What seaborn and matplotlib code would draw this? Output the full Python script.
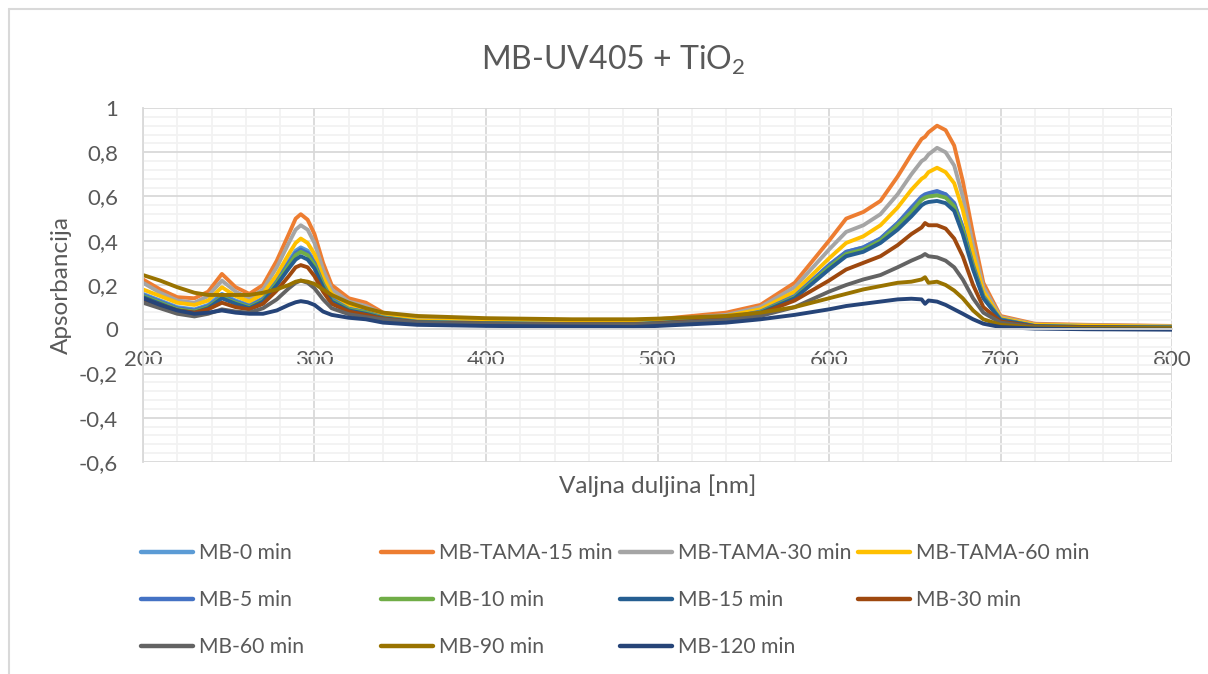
import matplotlib.pyplot as plt
import matplotlib.ticker as mticker
import pandas as pd
import seaborn as sns
from matplotlib.lines import Line2D

wavelengths = [200, 210, 220, 230, 238, 246, 254, 262, 270, 278, 285, 289, 292, 296, 300, 305,
               310, 320, 330, 340, 360, 400, 450, 486, 500, 540, 560, 580, 600, 610, 620,
               630, 640, 648, 654, 656, 658, 663, 668, 673, 678, 684, 690, 700, 720, 750, 800]

mb_0 = [0.16, 0.13, 0.10, 0.09, 0.11, 0.16, 0.13, 0.11, 0.14, 0.22, 0.31, 0.355, 0.37, 0.355, 0.31, 0.21,
        0.14, 0.095, 0.08, 0.055, 0.035, 0.03, 0.025, 0.025, 0.03, 0.05, 0.08, 0.15, 0.29, 0.35, 0.37,
        0.41, 0.48, 0.54, 0.59, 0.60, 0.61, 0.62, 0.61, 0.57, 0.46, 0.29, 0.15, 0.045, 0.015, 0.01, 0.008]
mb_tama_15 = [0.225, 0.18, 0.145, 0.14, 0.17, 0.25, 0.19, 0.16, 0.20, 0.31, 0.43, 0.50, 0.52, 0.495, 0.43, 0.30,
              0.20, 0.14, 0.12, 0.075, 0.05, 0.045, 0.04, 0.04, 0.045, 0.075, 0.11, 0.21, 0.40, 0.50, 0.53,
              0.58, 0.69, 0.79, 0.86, 0.87, 0.89, 0.92, 0.90, 0.83, 0.67, 0.43, 0.21, 0.06, 0.025, 0.02, 0.015]
mb_tama_30 = [0.21, 0.165, 0.13, 0.12, 0.15, 0.22, 0.17, 0.14, 0.18, 0.28, 0.39, 0.45, 0.47, 0.45, 0.39, 0.27,
              0.18, 0.125, 0.105, 0.07, 0.045, 0.04, 0.035, 0.035, 0.04, 0.065, 0.10, 0.19, 0.36, 0.44, 0.47,
              0.52, 0.61, 0.70, 0.76, 0.77, 0.79, 0.82, 0.80, 0.74, 0.60, 0.38, 0.19, 0.055, 0.022, 0.018, 0.014]
mb_tama_60 = [0.18, 0.15, 0.12, 0.11, 0.13, 0.19, 0.15, 0.125, 0.16, 0.245, 0.34, 0.39, 0.41, 0.39, 0.34, 0.235,
              0.16, 0.11, 0.095, 0.065, 0.04, 0.035, 0.03, 0.03, 0.035, 0.06, 0.09, 0.17, 0.32, 0.39, 0.42,
              0.47, 0.55, 0.63, 0.68, 0.69, 0.71, 0.73, 0.71, 0.66, 0.54, 0.34, 0.17, 0.05, 0.02, 0.016, 0.012]
mb_5 = [0.155, 0.125, 0.095, 0.085, 0.105, 0.15, 0.125, 0.105, 0.135, 0.215, 0.30, 0.345, 0.36, 0.345, 0.30, 0.205,
        0.135, 0.092, 0.078, 0.054, 0.034, 0.028, 0.024, 0.024, 0.029, 0.05, 0.08, 0.15, 0.29, 0.35, 0.37,
        0.41, 0.48, 0.55, 0.60, 0.61, 0.615, 0.625, 0.61, 0.57, 0.46, 0.29, 0.15, 0.045, 0.015, 0.01, 0.008]
mb_10 = [0.15, 0.12, 0.09, 0.08, 0.10, 0.145, 0.12, 0.10, 0.13, 0.21, 0.29, 0.335, 0.35, 0.335, 0.29, 0.20,
         0.13, 0.09, 0.075, 0.052, 0.033, 0.027, 0.023, 0.023, 0.028, 0.048, 0.077, 0.145, 0.28, 0.34, 0.36,
         0.40, 0.47, 0.53, 0.585, 0.595, 0.60, 0.605, 0.595, 0.555, 0.45, 0.28, 0.145, 0.043, 0.014, 0.01, 0.008]
mb_15 = [0.145, 0.115, 0.085, 0.075, 0.095, 0.14, 0.115, 0.095, 0.125, 0.20, 0.275, 0.315, 0.33, 0.315, 0.275, 0.19,
         0.125, 0.085, 0.07, 0.05, 0.032, 0.026, 0.022, 0.022, 0.027, 0.046, 0.074, 0.14, 0.27, 0.33, 0.35,
         0.39, 0.45, 0.51, 0.56, 0.57, 0.575, 0.58, 0.57, 0.535, 0.43, 0.27, 0.14, 0.042, 0.014, 0.01, 0.008]
mb_30 = [0.135, 0.11, 0.085, 0.075, 0.09, 0.12, 0.10, 0.09, 0.115, 0.175, 0.24, 0.28, 0.29, 0.28, 0.24, 0.17,
         0.115, 0.08, 0.065, 0.048, 0.03, 0.025, 0.022, 0.022, 0.026, 0.045, 0.07, 0.13, 0.22, 0.27, 0.30,
         0.33, 0.38, 0.43, 0.46, 0.48, 0.47, 0.47, 0.455, 0.41, 0.33, 0.20, 0.10, 0.035, 0.012, 0.008, 0.006]
mb_60 = [0.12, 0.095, 0.07, 0.058, 0.07, 0.09, 0.08, 0.075, 0.095, 0.135, 0.185, 0.21, 0.22, 0.21, 0.185, 0.135,
         0.095, 0.068, 0.055, 0.045, 0.03, 0.025, 0.022, 0.022, 0.025, 0.042, 0.06, 0.10, 0.17, 0.20, 0.225,
         0.245, 0.28, 0.31, 0.33, 0.34, 0.33, 0.325, 0.31, 0.28, 0.225, 0.14, 0.075, 0.03, 0.01, 0.006, 0.005]
mb_90 = [0.245, 0.22, 0.19, 0.165, 0.155, 0.155, 0.155, 0.155, 0.165, 0.18, 0.20, 0.215, 0.22, 0.215, 0.205, 0.18,
         0.155, 0.12, 0.095, 0.075, 0.06, 0.05, 0.045, 0.045, 0.048, 0.06, 0.075, 0.10, 0.14, 0.16, 0.18,
         0.195, 0.21, 0.215, 0.225, 0.235, 0.21, 0.215, 0.20, 0.175, 0.14, 0.085, 0.045, 0.02, 0.008, 0.006, 0.005]
mb_120 = [0.14, 0.11, 0.085, 0.07, 0.075, 0.085, 0.075, 0.07, 0.07, 0.085, 0.11, 0.122, 0.127, 0.122, 0.11, 0.08,
          0.065, 0.052, 0.045, 0.03, 0.02, 0.015, 0.012, 0.01, 0.015, 0.03, 0.045, 0.065, 0.09, 0.105, 0.115,
          0.125, 0.135, 0.138, 0.135, 0.115, 0.13, 0.125, 0.11, 0.09, 0.07, 0.045, 0.025, 0.01, 0.003, 0.0, -0.002]

series_names = ["MB-0 min", "MB-TAMA-15 min", "MB-TAMA-30 min", "MB-TAMA-60 min",
                "MB-5 min", "MB-10 min", "MB-15 min", "MB-30 min",
                "MB-60 min", "MB-90 min", "MB-120 min"]
series_values = [mb_0, mb_tama_15, mb_tama_30, mb_tama_60, mb_5, mb_10, mb_15, mb_30,
                 mb_60, mb_90, mb_120]
series_colors = ["#5B9BD5", "#ED7D31", "#A5A5A5", "#FFC000", "#4472C4", "#70AD47",
                 "#255E91", "#9E480E", "#636363", "#997300", "#264478"]

W, H = 1208, 674
TEXT = "#595959"


def fmt_comma(v, pos):
    """ Excel-like tick label with decimal comma (0,2 / -0,4 / 1). """
    if abs(v) < 1e-9:
        return "0"
    if abs(v - round(v)) < 1e-9:
        return f"{int(round(v))}"
    return f"{v:.1f}".replace(".", ",")


sns.set_theme(style="white")
plt.rcParams['font.family'] = ['Lato', 'DejaVu Sans']
plt.rcParams['mathtext.default'] = 'regular'

# Long-form table for seaborn
rows = []
for name, vals in zip(series_names, series_values):
    for wl, a in zip(wavelengths, vals):
        rows.append({"wl": wl, "A": a, "uzorak": name})
df = pd.DataFrame(rows)
palette = dict(zip(series_names, series_colors))

fig = plt.figure(figsize=(W / 100, H / 100), dpi=100)
ax = fig.add_axes([143 / W, 1 - 462 / H, (1172 - 143) / W, (462 - 108) / H])

sns.lineplot(data=df, x="wl", y="A", hue="uzorak", hue_order=series_names,
             palette=palette, linewidth=2.8, legend=False, sort=False,
             estimator=None, ax=ax)

ax.set_xlim(200, 800)
ax.set_ylim(-0.6, 1)
ax.xaxis.set_major_locator(mticker.MultipleLocator(100))
ax.xaxis.set_minor_locator(mticker.MultipleLocator(20))
ax.yaxis.set_major_locator(mticker.MultipleLocator(0.2))
ax.yaxis.set_minor_locator(mticker.MultipleLocator(0.04))
ax.yaxis.set_major_formatter(mticker.FuncFormatter(fmt_comma))
ax.grid(which="major", color="#D9D9D9", linewidth=1.3)
ax.grid(which="minor", color="#F2F2F2", linewidth=1.3)
ax.set_axisbelow(True)

for side in ["top", "right"]:
    ax.spines[side].set_visible(False)
ax.spines["bottom"].set_position(("data", 0))
ax.spines["bottom"].set_color("#D9D9D9")
ax.spines["left"].set_color("#D9D9D9")
ax.spines["bottom"].set_linewidth(1.3)
ax.spines["left"].set_linewidth(1.3)
ax.tick_params(which="both", length=0)
ax.tick_params(axis="x", labelsize=16, labelcolor=TEXT, pad=15)
ax.tick_params(axis="y", labelsize=16, labelcolor=TEXT, pad=18)

ax.set_xlabel("Valjna duljina [nm]", fontsize=17.5, color=TEXT)
ax.xaxis.set_label_coords(0.5, -0.035)
ax.set_ylabel("Apsorbancija", fontsize=17.5, color=TEXT)
ax.yaxis.set_label_coords(-0.069, 0.5)

fig.text(0.508, 1 - 60 / H, "MB-UV405 + TiO$_2$", fontsize=23, color=TEXT,
         ha="center", va="center")

# Chart area border (Excel style)
fig.add_artist(Line2D([9 / W, 1], [1 - 9 / H, 1 - 9 / H], transform=fig.transFigure,
                      color="#D9D9D9", linewidth=1.5))
fig.add_artist(Line2D([9 / W, 9 / W], [0, 1 - 9 / H], transform=fig.transFigure,
                      color="#D9D9D9", linewidth=1.5))

# Legend: 4 fixed-width columns, row-major order like Excel
col_x = [141, 381, 620, 858]
for c, x in enumerate(col_x):
    idx = list(range(c, len(series_names), 4))
    handles = [Line2D([], [], color=series_colors[i], linewidth=3.2) for i in idx]
    labels = [series_names[i] for i in idx]
    fig.legend(handles, labels, loc="upper left", bbox_to_anchor=(x / W, 1 - 543 / H),
               frameon=False, fontsize=15.2, labelcolor=TEXT, handlelength=2.46,
               handletextpad=0.28, labelspacing=1.29, borderpad=0, borderaxespad=0)

fig.savefig("out.png", dpi=100)
